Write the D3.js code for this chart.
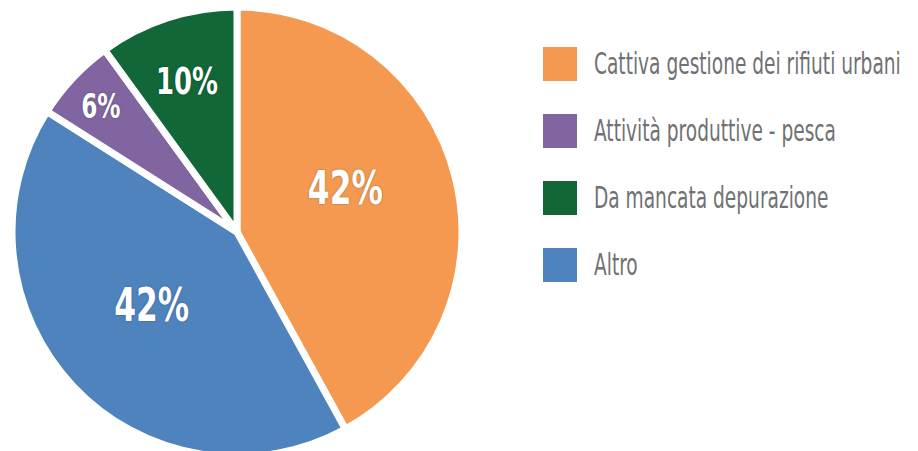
<!DOCTYPE html>
<meta charset="utf-8">
<head>
  <title>Pie</title>
  <script src="https://cdn.jsdelivr.net/npm/d3@7"></script>
  <style>
    body { margin: 0; background: #fff; }
    svg { display: block; }
    .lbl { fill: #fff; font-family: "Liberation Sans Narrow", "DejaVu Sans Condensed", sans-serif; font-weight: bold;
           text-shadow: 0 0 2px rgba(0,0,0,0.35); }
    .leg text { fill: #707173; font-family: "Liberation Sans Narrow", "DejaVu Sans Condensed", sans-serif; }
  </style>
</head>
<body>
<svg width="918" height="451"></svg>
<script>

  var categories = ["Cattiva gestione dei rifiuti urbani", "Altro", "Attività produttive - pesca", "Da mancata depurazione"];
  var values = [42, 42, 6, 10];       // % , clockwise from 12 o'clock
  var colors = ["#F4994F", "#4F83BD", "#8065A1", "#116737"];
  var legendOrder = [0, 2, 3, 1];     // legend rows

  var cx = 237, cy = 232, R = 225;

  var svg = d3.select("svg");

  var pie = d3.pie().sort(null).value(function(d) { return d; });
  var arc = d3.arc().innerRadius(0).outerRadius(R);
  var arcs = pie(values);

  var g = svg.append("g").attr("transform", "translate(" + cx + "," + cy + ")");

  g.selectAll("path")
    .data(arcs)
    .enter()
      .append("path")
      .attr("d", arc)
      .attr("fill", function(d, i) { return colors[i]; })
      .attr("stroke", "#fff")
      .attr("stroke-width", 7)
      .attr("stroke-linejoin", "miter");

  // labels: big slices nearer the middle, thin ones out toward the rim
  function labelR(v) { return v >= 20 ? 0.52 * R : (v >= 10 ? 0.72 * R : 0.83 * R); }
  function labelSize(v) { return v >= 20 ? 46 : (v >= 10 ? 38 : 34); }

  var lbl = g.selectAll("g.lbl")
    .data(arcs)
    .enter()
      .append("g")
      .attr("transform", function(d) {
        var a = (d.startAngle + d.endAngle) / 2;
        var r = labelR(d.value);
        var nudge = d.value >= 20 ? -8 : 2;
        if (d.index == 0) nudge -= 7;
        return "translate(" + (r * Math.sin(a) - (d.index == 0 ? 5 : 0)) + "," + (-r * Math.cos(a) + nudge) + ")";
      })
    .append("text")
      .attr("class", "lbl")
      .attr("text-anchor", "middle")
      .attr("dy", "0.36em")
      .style("font-size", function(d) { return labelSize(d.value) + "px"; })
      .text(function(d) { return d.value + "%"; });

  var lw = lbl.filter(function(d) { return d.index == 0; }).node().getComputedTextLength();
  lbl.attr("transform", "scale(" + (75 / lw) + ",1)");

  // legend
  var y = d3.scaleBand().domain(legendOrder).range([47, 47 + 67 * 4]).paddingInner(0);

  var leg = svg.append("g").attr("class", "leg");
  var rows = leg.selectAll("g")
    .data(legendOrder)
    .enter()
      .append("g")
      .attr("transform", function(d) { return "translate(543," + y(d) + ")"; });

  rows.append("rect")
    .attr("width", 34)
    .attr("height", 34)
    .attr("fill", function(d) { return colors[d]; });

  var txt = rows.append("text")
    .attr("y", 27)
    .style("font-size", "31px")
    .text(function(d) { return categories[d]; });

  // squeeze the narrow font further to match the very condensed original
  var w0 = txt.filter(function(d) { return d == 0; }).node().getComputedTextLength();
  var sx = 307 / w0;
  txt.attr("transform", "translate(51,0) scale(" + sx + ",1)");

</script>
</body>
</html>
